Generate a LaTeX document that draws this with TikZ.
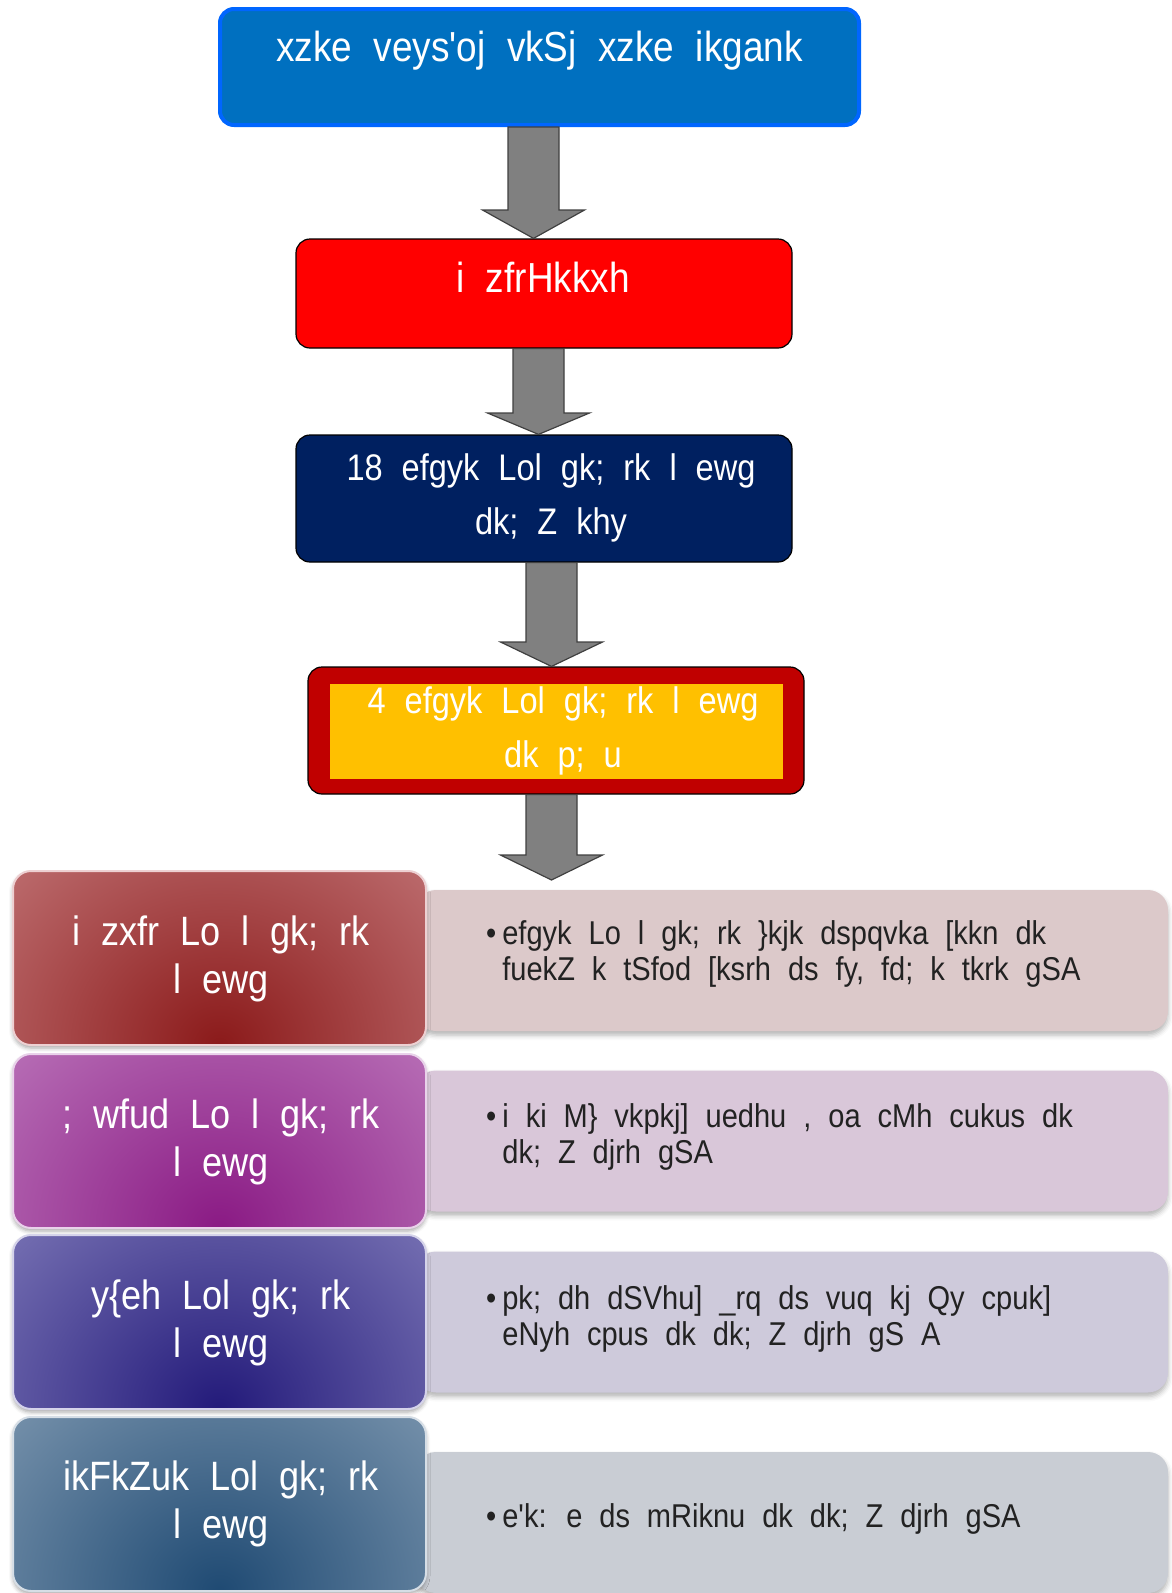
\documentclass[tikz,border=0pt]{standalone}
\usepackage{fontspec}
\setmainfont{Liberation Sans}
\newfontfamily\kf[WordSpace=2.1,FakeStretch=0.88]{Liberation Sans}
\usetikzlibrary{shadows.blur,calc}
\definecolor{topblue}{HTML}{0070C0}
\definecolor{topborder}{HTML}{0066FF}
\definecolor{navy}{HTML}{002060}
\definecolor{gold}{HTML}{FFC000}
\definecolor{darkred}{HTML}{C00000}
\definecolor{arrowgray}{HTML}{808080}
\definecolor{lA}{HTML}{D6979A}\definecolor{dA}{HTML}{8B1A1A}
\definecolor{lB}{HTML}{CF9BD0}\definecolor{dB}{HTML}{8A1A84}
\definecolor{lC}{HTML}{A19DD0}\definecolor{dC}{HTML}{231A7A}
\definecolor{lD}{HTML}{A3B6C8}\definecolor{dD}{HTML}{1F4A73}
\definecolor{rA}{HTML}{DCC9CA}
\definecolor{rB}{HTML}{D9C7D9}
\definecolor{rC}{HTML}{CECADB}
\definecolor{rD}{HTML}{C9CDD4}
\definecolor{bodytext}{HTML}{222222}
\newcommand\blockarrow[4]{%
  \draw[barrow] (#3-25.5,0 |- #1) -- (#3-25.5,#4) -- (#3-51,#4)
    -- (#3,0 |- #2) -- (#3+51,#4) -- (#3+25.5,#4)
    -- (#3+25.5,0 |- #1) -- cycle;}
\begin{document}
\begin{tikzpicture}[x=1pt,y=-1pt,
  boxtext/.style={text=white, align=center, font=\kf\fontsize{42}{52}\selectfont},
  midtext/.style={text=white, align=center, font=\kf\fontsize{37}{54}\selectfont},
  topbox/.style={draw=topborder, line width=4pt, fill=topblue, rounded corners=14pt,
    minimum width=639pt, minimum height=116pt, inner sep=0pt},
  flowbox/.style={draw=black, line width=1.2pt, fill=#1, rounded corners=14pt,
    minimum width=496pt, inner sep=0pt},
  barrow/.style={fill=arrowgray, draw=black!75, line width=1.2pt, line join=miter},
  leftbox/.style 2 args={rounded corners=18pt, minimum width=413pt, minimum height=174pt,
    inner sep=0pt, fill=#1, draw=white!55!#1, line width=2pt,
    blur shadow={shadow xshift=0pt, shadow yshift=-3pt, shadow blur radius=4pt, shadow opacity=35},
    path picture={\shade[inner color=#2, outer color=#1]
      (path picture bounding box.south) ellipse (440pt and 400pt);}},
  leftlabel/.style={text=white, align=center, font=\kf\fontsize{41}{48}\selectfont},
  rightbox/.style={fill=#1, rounded corners=20pt, minimum width=752pt, minimum height=141pt,
    inner sep=0pt,
    blur shadow={shadow xshift=0pt, shadow yshift=-4pt, shadow blur radius=5pt, shadow opacity=30}},
  righttext/.style={anchor=west, text=bodytext, inner sep=0pt,
    font=\kf\fontsize{33}{36}\selectfont}
]
\useasboundingbox (0,0) rectangle (1171,1593);

% top flow
\node[topbox] (top) at (539.5,67) {};
\node[boxtext] (topt) at (539.5,51) {xzke veys'oj vkSj xzke ikgank};

\node[flowbox=red, minimum height=109pt] (red) at (544,293.5) {};
\node[boxtext] (redt) at (543,277) {i zfrHkkxh};

\node[flowbox=navy, minimum height=127pt] (navy) at (544,498.5) {};
\node[midtext] (navyt) at (551,498) {18 efgyk Lol gk; rk l ewg\\dk; Z khy};

\node[flowbox=darkred, minimum height=127pt] (yel) at (556,730.5) {};
\node[fill=gold, minimum width=453pt, minimum height=95pt, inner sep=0pt] (yelin) at (556.5,731.5) {};
\node[midtext] (yelt) at (563,731) {4 efgyk Lol gk; rk l ewg\\dk p; u};

\coordinate (a4tip) at (551.5,880);

\blockarrow{top.south}{red.north}{533.5}{210}
\blockarrow{red.south}{navy.north}{538.5}{413}
\blockarrow{navy.south}{yel.north}{551.5}{642}
\blockarrow{yel.south}{a4tip}{551.5}{855}

% right boxes
\node[rightbox=rA] (r1) at (792,960.5) {};
\node[rightbox=rB] (r2) at (792,1141) {};
\node[rightbox=rC] (r3) at (792,1322) {};
\node[rightbox=rD] (r4) at (792,1522.5) {};

\node[righttext] (r1t) at (486,955) {\begin{tabular}{@{}l@{\hspace{6pt}}l@{}}
\textbullet & efgyk Lo l gk; rk \}kjk dspqvka [kkn dk\\
 & fuekZ k tSfod [ksrh ds fy, fd; k tkrk gSA\end{tabular}};
\node[righttext] (r2t) at (486,1138) {\begin{tabular}{@{}l@{\hspace{6pt}}l@{}}
\textbullet & i ki M\} vkpkj] uedhu , oa cMh cukus dk\\
 & dk; Z djrh gSA\end{tabular}};
\node[righttext] (r3t) at (486,1320) {\begin{tabular}{@{}l@{\hspace{6pt}}l@{}}
\textbullet & pk; dh dSVhu] \_rq ds vuq kj Qy cpuk]\\
 & eNyh cpus dk dk; Z djrh gS A\end{tabular}};
\node[righttext] (r4t) at (486,1520) {\begin{tabular}{@{}l@{\hspace{6pt}}l@{}}
\textbullet & e'k: e ds mRiknu dk dk; Z djrh gSA\end{tabular}};

% left boxes
\node[leftbox={lA}{dA}] (l1) at (219.5,958) {};
\node[leftlabel] (l1t) at (221,959) {i zxfr Lo l gk; rk\\l ewg};
\node[leftbox={lB}{dB}] (l2) at (219.5,1141) {};
\node[leftlabel] (l2t) at (221,1142) {; wfud Lo l gk; rk\\l ewg};
\node[leftbox={lC}{dC}] (l3) at (219.5,1322) {};
\node[leftlabel] (l3t) at (221,1323) {y\{eh Lol gk; rk\\l ewg};
\node[leftbox={lD}{dD}] (l4) at (219.5,1504) {};
\node[leftlabel] (l4t) at (221,1504) {ikFkZuk Lol gk; rk\\l ewg};
\end{tikzpicture}
\end{document}
